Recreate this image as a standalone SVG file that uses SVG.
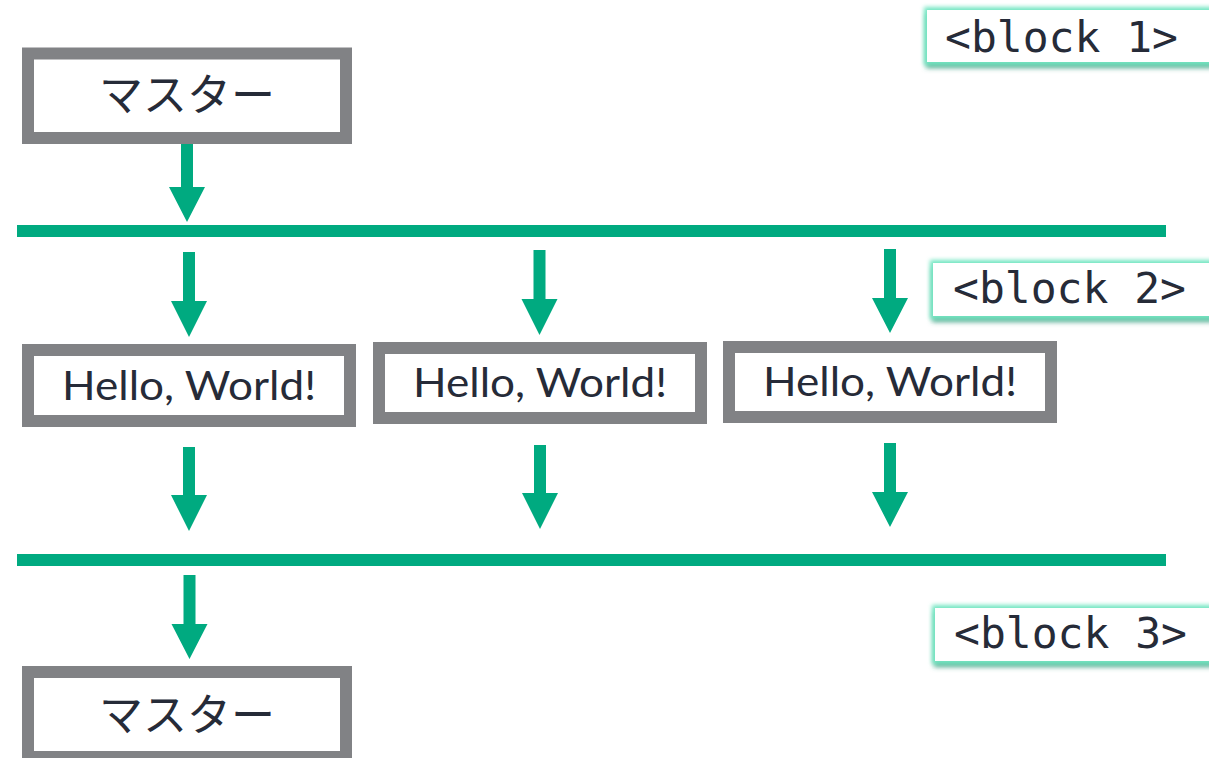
<svg xmlns="http://www.w3.org/2000/svg" width="1209" height="758" viewBox="0 0 1209 758">
  <defs>
    <style>
      .box { fill: #ffffff; stroke: #818285; stroke-width: 12; }
      .arrow { fill: #00aa80; }
      .bar { fill: #00aa80; }
      .jp { font-family: "Noto Sans CJK JP", "Noto Sans", sans-serif; font-size: 44px; fill: #262b38; text-anchor: middle; }
      .hello { font-family: "Lato", "Noto Sans", sans-serif; font-size: 41px; fill: #262b38; text-anchor: middle; }
      .lbl-box { fill: #ffffff; filter: url(#glow); }
      .lbl { font-family: "DejaVu Sans Mono", "Liberation Mono", monospace; font-size: 43px; fill: #262b38; }
    </style>
    <filter id="glow" x="-10%" y="-50%" width="130%" height="220%">
      <feMorphology in="SourceAlpha" operator="dilate" radius="1" result="dilS"/>
      <feGaussianBlur in="dilS" stdDeviation="2.5" result="blurA"/>
      <feOffset in="blurA" dy="5" result="offA"/>
      <feFlood flood-color="#3a9a7c" flood-opacity="0.85"/>
      <feComposite in2="offA" operator="in" result="shadow"/>
      <feMorphology in="SourceAlpha" operator="dilate" radius="3" result="dil"/>
      <feGaussianBlur in="dil" stdDeviation="2.2" result="blurB"/>
      <feFlood flood-color="#72e6c2"/>
      <feComposite in2="blurB" operator="in" result="glowc"/>
      <feMerge>
        <feMergeNode in="shadow"/>
        <feMergeNode in="glowc"/>
        <feMergeNode in="SourceGraphic"/>
      </feMerge>
    </filter>
  </defs>
  <rect width="1209" height="758" fill="#ffffff"/>

  <g id="connectors">
    <rect id="bus1" class="bar" x="17" y="225" width="1149" height="12"/>
    <rect id="bus2" class="bar" x="17" y="554" width="1149" height="12"/>
    <path class="arrow" d="M181 140 H193 V187 H205 L187 222 L169 187 H181 Z"/>
    <path class="arrow" d="M183 252 H195 V301 H207 L189 337 L171 301 H183 Z"/>
    <path class="arrow" d="M533.5 250 H545.5 V299 H557.5 L539.5 335 L521.5 299 H533.5 Z"/>
    <path class="arrow" d="M884 249 H896 V298 H908 L890 333 L872 298 H884 Z"/>
    <path class="arrow" d="M183 447 H195 V495 H207 L189 531 L171 495 H183 Z"/>
    <path class="arrow" d="M534 445 H546 V493 H558 L540 529 L522 493 H534 Z"/>
    <path class="arrow" d="M884 443 H896 V492 H908 L890 527 L872 492 H884 Z"/>
    <path class="arrow" d="M183.5 575 H195.5 V624 H207.5 L189.5 659 L171.5 624 H183.5 Z"/>
  </g>

  <g id="master1">
    <rect class="box" x="28" y="53.5" width="318" height="84.5"/>
    <text class="jp" x="187" y="111">マスター</text>
  </g>

  <g id="hello1">
    <rect class="box" x="28" y="350" width="322" height="71"/>
    <text class="hello" x="189" y="400" textLength="254" lengthAdjust="spacingAndGlyphs">Hello, World!</text>
  </g>
  <g id="hello2">
    <rect class="box" x="379" y="348" width="322" height="70"/>
    <text class="hello" x="540" y="397" textLength="254" lengthAdjust="spacingAndGlyphs">Hello, World!</text>
  </g>
  <g id="hello3">
    <rect class="box" x="729" y="347" width="322" height="70"/>
    <text class="hello" x="890" y="396" textLength="254" lengthAdjust="spacingAndGlyphs">Hello, World!</text>
  </g>

  <g id="master2">
    <rect class="box" x="28" y="672" width="318" height="85"/>
    <text class="jp" x="187" y="731">マスター</text>
  </g>

  <g id="block1">
    <rect class="lbl-box" x="927" y="10" width="290" height="52"/>
    <text class="lbl" x="945" y="52">&lt;block 1&gt;</text>
  </g>
  <g id="block2">
    <rect class="lbl-box" x="933" y="263" width="290" height="53"/>
    <text class="lbl" x="953" y="303">&lt;block 2&gt;</text>
  </g>
  <g id="block3">
    <rect class="lbl-box" x="935" y="608" width="290" height="53"/>
    <text class="lbl" x="954" y="648">&lt;block 3&gt;</text>
  </g>
</svg>
